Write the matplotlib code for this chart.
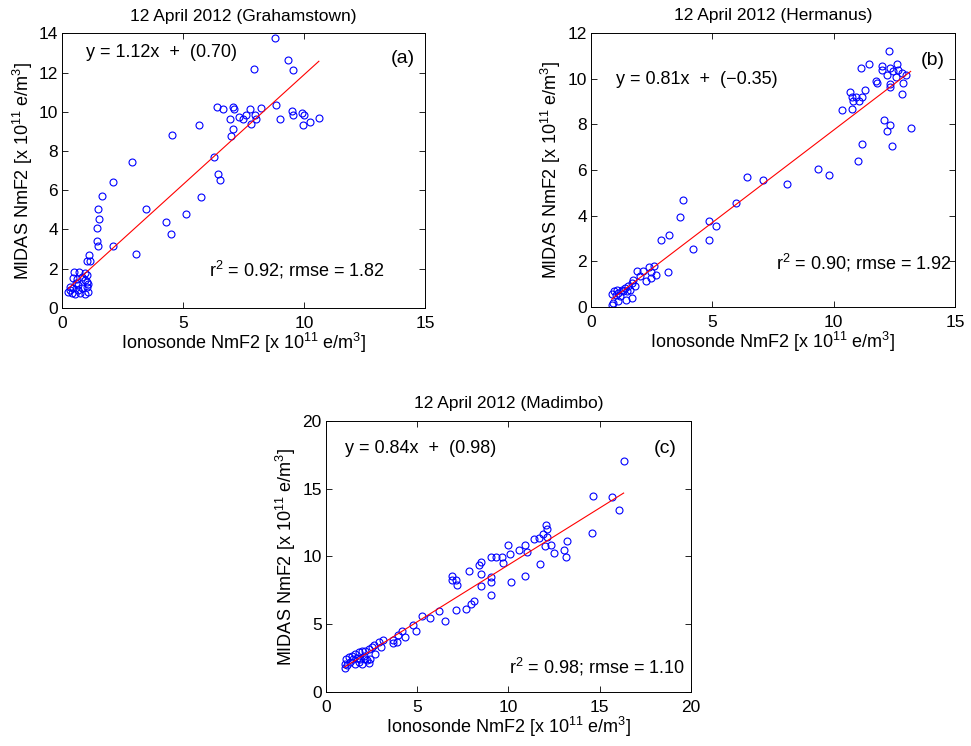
import numpy as np
import matplotlib
matplotlib.use('Agg')
import matplotlib.pyplot as plt

plt.rcParams['font.family'] = ['Liberation Sans', 'DejaVu Sans']
plt.rcParams['mathtext.default'] = 'regular'

# Grahamstown (ionosonde x, MIDAS y)
graham_x = [8.78, 9.34, 7.93, 9.56, 8.83, 6.39, 6.63, 7.07, 7.11, 7.75, 8.20, 9.48,
            9.53, 9.92, 10.01, 10.61, 10.26, 9.97, 8.99, 7.97, 8.01, 7.79, 7.61, 7.47,
            7.29, 6.92, 7.07, 6.99, 5.67, 4.54, 6.28, 6.45, 6.52, 5.75, 2.87, 2.08,
            1.65, 1.48, 1.52, 1.45, 1.43, 1.48, 1.12, 1.04, 1.14, 3.47, 2.08, 3.06,
            4.30, 4.48, 5.10,
            0.50, 0.70, 0.92, 1.01, 0.46, 0.60, 0.80, 0.94, 1.03, 0.32, 0.46, 0.64,
            0.83, 1.01, 0.25, 0.39, 0.53, 0.74, 0.92, 1.06, 0.32, 0.66, 1.08, 0.55]
graham_y = [13.76, 12.65, 12.21, 12.13, 10.34, 10.26, 10.17, 10.26, 10.12, 10.17, 10.19, 10.03,
            9.83, 9.95, 9.83, 9.69, 9.49, 9.34, 9.66, 9.83, 9.63, 9.40, 9.83, 9.66,
            9.74, 9.66, 9.10, 8.78, 9.32, 8.84, 7.69, 6.82, 6.50, 5.66, 7.43, 6.43,
            5.71, 5.05, 4.51, 4.08, 3.42, 3.15, 2.69, 2.38, 2.41, 5.03, 3.13, 2.74,
            4.39, 3.76, 4.78,
            1.84, 1.82, 1.79, 1.67, 1.50, 1.45, 1.58, 1.41, 1.33, 1.07, 0.99, 0.90,
            1.02, 1.07, 0.82, 0.73, 0.68, 0.73, 0.68, 0.82, 0.90, 1.16, 1.19, 1.24]

# Hermanus
herm_x = [12.27, 11.46, 11.13, 11.98, 12.32, 12.60, 11.98, 12.43, 12.66, 12.80, 12.96, 12.18,
          12.55, 11.73, 11.78, 12.32, 12.87, 12.32, 12.81, 10.66, 11.27, 10.77, 10.93, 11.17,
          10.79, 11.04, 10.36, 10.75, 12.06, 12.30, 12.21, 13.17, 11.17, 12.40, 11.02, 9.36,
          9.80, 8.06, 7.09, 6.42, 5.97, 4.88, 5.14, 4.88, 4.21, 3.77, 3.67, 3.21,
          2.90, 3.16, 2.60, 2.39, 2.16, 1.89, 2.66, 2.46, 2.46, 2.25, 2.01, 1.73,
          1.67, 1.80, 1.53, 1.60, 1.39, 1.26, 1.05, 1.12, 0.96, 0.85, 1.01, 1.19,
          1.46, 1.67, 1.12, 0.92, 0.87, 1.33, 1.50]
herm_y = [11.20, 10.64, 10.47, 10.54, 10.47, 10.64, 10.36, 10.32, 10.36, 10.25, 10.18, 10.15,
          10.06, 9.91, 9.81, 9.77, 9.81, 9.62, 9.34, 9.43, 9.50, 9.21, 9.21, 9.18,
          9.04, 9.01, 8.64, 8.66, 8.20, 7.99, 7.69, 7.82, 7.14, 7.05, 6.41, 6.03,
          5.80, 5.39, 5.55, 5.68, 4.54, 3.78, 3.56, 2.95, 2.55, 4.70, 3.94, 3.15,
          2.92, 1.53, 1.81, 1.74, 1.59, 1.56, 1.42, 1.53, 1.27, 1.12, 1.34, 1.20,
          1.05, 0.91, 0.91, 0.76, 0.83, 0.76, 0.76, 0.61, 0.69, 0.57, 0.51, 0.47,
          0.32, 0.39, 0.28, 0.18, 0.07, 0.69, 0.69]

# Madimbo
madi_x = [16.31, 14.64, 15.66, 16.06, 14.56, 12.06, 12.13, 11.88, 11.66, 11.41, 12.10, 13.19,
          10.88, 9.96, 12.35, 12.01, 10.58, 13.07, 10.99, 12.48, 10.07, 9.07, 9.34, 9.67,
          13.16, 8.49, 8.41, 9.71, 11.73, 7.83, 8.49, 6.88, 6.90, 7.10, 7.19, 10.89,
          9.07, 9.03, 8.49, 10.16, 9.05, 8.10, 7.94, 7.68, 7.12, 6.22, 5.71, 5.24,
          6.53, 4.76, 4.91, 4.16, 4.34, 3.96, 3.65, 3.87, 3.70, 3.12, 3.03, 2.70,
          2.88, 2.61, 2.52, 2.34, 2.15, 1.97, 1.79, 1.61, 1.42, 1.24, 1.09, 1.02,
          1.06, 1.15, 1.33, 1.57, 1.79, 1.97, 2.24, 2.34, 2.43, 1.70, 2.06, 1.46,
          1.88, 2.15]
madi_y = [17.01, 14.44, 14.39, 13.41, 11.75, 12.29, 12.00, 11.68, 11.38, 11.26, 11.46, 11.14,
          10.84, 10.87, 10.82, 10.77, 10.45, 10.48, 10.33, 10.23, 10.16, 9.96, 9.99, 9.99,
          9.96, 9.62, 9.35, 9.50, 9.47, 8.94, 8.69, 8.57, 8.27, 8.27, 7.88, 8.57,
          8.52, 8.08, 7.83, 8.08, 7.15, 6.68, 6.51, 6.12, 6.07, 6.00, 5.46, 5.61,
          5.24, 4.97, 4.53, 4.48, 4.04, 4.24, 3.84, 3.67, 3.62, 3.84, 3.35, 2.77,
          3.67, 3.48, 3.35, 3.18, 3.06, 2.99, 2.94, 2.82, 2.69, 2.57, 2.40, 2.08,
          1.76, 1.96, 2.20, 2.08, 2.20, 2.08, 2.33, 2.13, 2.45, 2.50, 2.64, 2.40,
          2.40, 2.45]

panels = [
    dict(x=graham_x, y=graham_y, slope=1.12, icpt=0.70, r2='0.92', rmse='1.82',
         title='12 April 2012 (Grahamstown)', tag='(a)', icpt_txt='(0.70)',
         rect=[0.0642, 0.5875, 0.3735, 0.3676], xlim=(0, 15), ylim=(0, 14),
         xt=[0, 5, 10, 15], yt=[0, 2, 4, 6, 8, 10, 12, 14],
         eq_pos=(0.065, 0.929), tag_pos=(0.972, 0.91), r_pos=(0.89, 0.137)),
    dict(x=herm_x, y=herm_y, slope=0.81, icpt=-0.35, r2='0.90', rmse='1.92',
         title='12 April 2012 (Hermanus)', tag='(b)', icpt_txt='(\u22120.35)',
         rect=[0.6087, 0.5885, 0.3749, 0.3673], xlim=(0, 15), ylim=(0, 12),
         xt=[0, 5, 10, 15], yt=[0, 2, 4, 6, 8, 10, 12],
         eq_pos=(0.068, 0.83), tag_pos=(0.973, 0.90), r_pos=(0.99, 0.16)),
    dict(x=madi_x, y=madi_y, slope=0.84, icpt=0.98, r2='0.98', rmse='1.10',
         title='12 April 2012 (Madimbo)', tag='(c)', icpt_txt='(0.98)',
         rect=[0.3357, 0.0724, 0.3759, 0.3633], xlim=(0, 20), ylim=(0, 20),
         xt=[0, 5, 10, 15, 20], yt=[0, 5, 10, 15, 20],
         eq_pos=(0.052, 0.90), tag_pos=(0.96, 0.90), r_pos=(0.984, 0.094)),
]

fig = plt.figure(figsize=(9.71, 7.46), dpi=100)

for p in panels:
    ax = fig.add_axes(p['rect'])
    ax.plot(p['x'], p['y'], 'o', mfc='none', mec='blue', ms=5, mew=0.8)
    xs = np.array([min(p['x']), max(p['x'])])
    ax.plot(xs, p['slope'] * xs + p['icpt'], color='red', lw=0.8)
    ax.set_xlim(p['xlim'])
    ax.set_ylim(p['ylim'])
    ax.set_xticks(p['xt'])
    ax.set_yticks(p['yt'])
    ax.tick_params(direction='in', top=True, right=True, length=4, width=0.6,
                   labelsize=12.5)
    ax.tick_params(axis='x', pad=6)
    ax.tick_params(axis='y', pad=3)
    for s in ax.spines.values():
        s.set_linewidth(0.7)
    ax.set_xlabel('Ionosonde NmF2 [x 10$^{11}$ e/m$^{3}$]', fontsize=13, labelpad=0)
    ax.set_ylabel('MIDAS NmF2 [x 10$^{11}$ e/m$^{3}$]', fontsize=13, labelpad=3)
    ax.set_title(p['title'], fontsize=12.5, pad=9)
    ax.text(p['eq_pos'][0], p['eq_pos'][1],
            'y = %.2fx  +  %s' % (p['slope'], p['icpt_txt']),
            transform=ax.transAxes, fontsize=13, va='center', ha='left')
    ax.text(p['tag_pos'][0], p['tag_pos'][1], p['tag'], transform=ax.transAxes,
            fontsize=14, va='center', ha='right')
    ax.text(p['r_pos'][0], p['r_pos'][1],
            'r$^{2}$ = %s; rmse = %s' % (p['r2'], p['rmse']),
            transform=ax.transAxes, fontsize=13, va='center', ha='right')

fig.savefig('out.png', dpi=100)
